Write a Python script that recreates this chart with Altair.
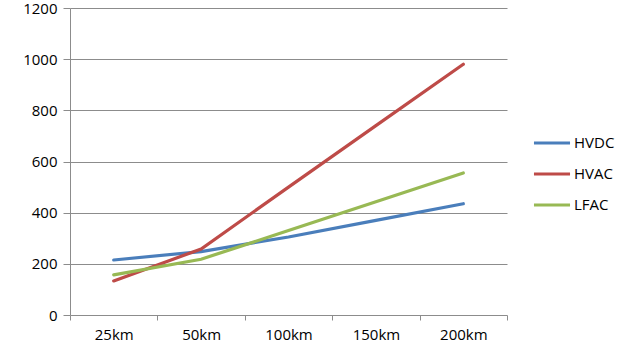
import altair as alt
import pandas as pd

# Cable length categories and cost figures per transmission technology
distances = ["25km", "50km", "100km", "150km", "200km"]
hvdc = [215, 248, 305, 370, 435]
hvac = [133, 258, 500, 740, 980]
lfac = [157, 218, 330, 443, 555]

series_names = ["HVDC", "HVAC", "LFAC"]
series_values = [hvdc, hvac, lfac]
series_colors = ["#4A7EBB", "#BE4B48", "#98B954"]

rows = []
for name, values in zip(series_names, series_values):
    for d, v in zip(distances, values):
        rows.append({"distance": d, "value": v, "series": name})
df = pd.DataFrame(rows)

FONT = "Open Sans"
GRID = "#8C8C8C"

lines = alt.Chart(df).mark_line(strokeWidth=3.2, strokeCap="round").encode(
    x=alt.X(
        "distance:N",
        sort=distances,
        scale=alt.Scale(paddingInner=0, paddingOuter=0),
        axis=alt.Axis(
            title=None,
            labelAngle=0,
            tickBand="extent",
            ticks=True,
            tickSize=5,
            tickColor=GRID,
            domain=False,
            grid=False,
            labelPadding=7,
        ),
    ),
    y=alt.Y(
        "value:Q",
        scale=alt.Scale(domain=[0, 1200], nice=False),
        axis=alt.Axis(
            title=None,
            values=[0, 200, 400, 600, 800, 1000, 1200],
            format="d",
            tickSize=7,
            tickColor=GRID,
            domainColor=GRID,
            gridColor=GRID,
            labelPadding=6,
        ),
    ),
    color=alt.Color(
        "series:N",
        sort=series_names,
        scale=alt.Scale(domain=series_names, range=series_colors),
        legend=alt.Legend(
            title=None,
            orient="none",
            legendX=462,
            legendY=115,
            symbolType="stroke",
            symbolSize=1300,
            symbolStrokeWidth=3.2,
            labelOffset=2,
            rowPadding=3,
            padding=0,
        ),
    ),
    order=alt.Order("series:N"),
)

chart = lines.properties(
    width=437,
    height=307,
    padding={"left": 70, "top": 8, "right": 119, "bottom": 35},
    autosize=alt.AutoSizeParams(type="none"),
).configure_view(
    stroke=None
).configure_axis(
    labelFont=FONT,
    labelFontSize=15,
    labelColor="#000000",
    domainWidth=1,
    gridWidth=1,
).configure_legend(
    labelFont=FONT,
    labelFontSize=15,
    labelColor="#000000",
)

chart.save("out.html", embed_options={"renderer": "svg", "actions": False})
